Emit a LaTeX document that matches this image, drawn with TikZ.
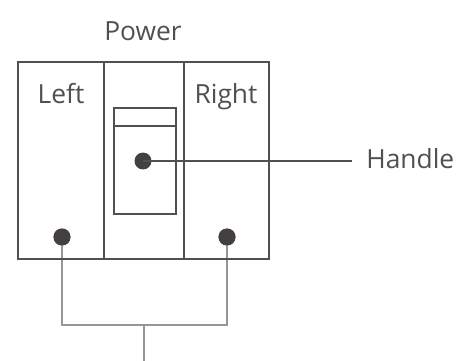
\documentclass[tikz,border=0pt]{standalone}
\usepackage{fontspec}
\setmainfont{Open Sans}
\usepackage{xcolor}
\usepackage{tikz}
\usetikzlibrary{positioning, arrows.meta}
\definecolor{FrameGray}{RGB}{80,80,80}
\definecolor{WireGray}{RGB}{150,150,150}
\definecolor{DotGray}{RGB}{68,64,66}
\definecolor{TextGray}{RGB}{80,80,80}
\tikzset{
  panel/.style={draw=FrameGray, line width=1.2pt, minimum height=3.94cm, inner sep=0pt},
  hbox/.style={draw=FrameGray, line width=1.2pt, inner sep=0pt},
  dot/.style={circle, fill=DotGray, minimum size=0.34cm, inner sep=0pt},
  wire/.style={draw=FrameGray, line width=1.2pt},
  lowwire/.style={draw=WireGray, line width=1.3pt},
  lbl/.style={font=\fontsize{15}{18}\selectfont, text=TextGray, inner sep=0pt},
}

\begin{document}
\begin{tikzpicture}[x=0.02cm, y=-0.02cm]
  \useasboundingbox (0,0) rectangle (463,361);
  % feed wires
  \node[dot] (ldot) at (62,237) {};
  \node[dot] (rdot) at (227,237) {};
  \coordinate (join) at (144,325);
  \coordinate (feed) at (144,361);
  \draw[lowwire] (ldot.center) |- (join) -| (rdot.center);
  \draw[lowwire] (join) -- (feed);
  % the three panels
  \foreach \nm/\xa/\w in {leftpanel/17/1.72, midpanel/103/1.6, rightpanel/183/1.7}
    \node[panel, minimum width=\w cm, anchor=north west] (\nm) at (\xa,61) {};
  % handle
  \node[hbox, minimum width=1.24cm, minimum height=2.12cm, anchor=north west] (handle) at (113,107) {};
  \node[hbox, minimum width=1.24cm, minimum height=0.36cm, anchor=north west] (handlecap) at (handle.north west) {};
  \node[dot] (hdot) at (143,161) {};
  \coordinate (hend) at (352,161);
  \draw[wire] (hdot.center) -- (hend);
  \node[dot] at (ldot) {};
  \node[dot] at (rdot) {};
  % labels
  \node[lbl, anchor=base] (power) at (143,41) {Power};
  \node[lbl, anchor=base] (left) at (61,104) {Left};
  \node[lbl, anchor=base] (right) at (226,104) {Right};
  \node[lbl, anchor=base west] (handlelbl) at (366,169) {Handle};
\end{tikzpicture}
\end{document}
